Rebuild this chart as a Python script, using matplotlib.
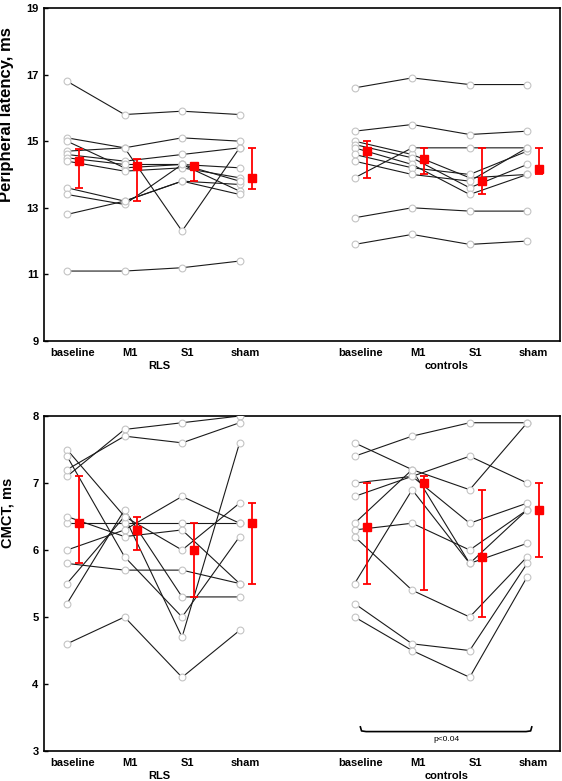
import matplotlib
matplotlib.use('Agg')
import numpy as np
import matplotlib.pyplot as plt

plt.rcParams.update({
    'font.family': ['Liberation Sans', 'DejaVu Sans'],
    'font.weight': 'bold',
    'axes.labelweight': 'bold',
})

conditions = ['baseline', 'M1', 'S1', 'sham']
groups = ['RLS', 'controls']

# Peripheral latency (ms), one row per subject: baseline, M1, S1, sham
lat_rls = [
    [16.8, 15.8, 15.9, 15.8],
    [11.1, 11.1, 11.2, 11.4],
    [15.1, 14.8, 15.1, 15.0],
    [15.0, 14.2, 14.3, 13.5],
    [14.7, 14.8, 12.3, 14.8],
    [14.6, 14.4, 14.6, 14.8],
    [14.5, 14.3, 14.3, 14.2],
    [14.4, 14.1, 14.2, 13.9],
    [13.6, 13.2, 13.8, 13.7],
    [13.4, 13.1, 14.3, 13.8],
    [12.8, 13.2, 13.8, 13.4],
]
lat_ctrl = [
    [16.6, 16.9, 16.7, 16.7],
    [15.3, 15.5, 15.2, 15.3],
    [12.7, 13.0, 12.9, 12.9],
    [11.9, 12.2, 11.9, 12.0],
    [15.0, 14.6, 13.9, 14.0],
    [14.9, 14.5, 13.6, 14.3],
    [14.8, 14.3, 13.4, 14.0],
    [14.6, 14.2, 14.0, 14.7],
    [14.4, 14.0, 13.8, 14.8],
    [13.9, 14.8, 14.8, 14.8],
]
# red summary markers: centre, lower, upper
lat_rls_mid = [14.4, 14.24, 14.24, 13.9]
lat_rls_lo = [13.6, 13.2, 13.8, 13.55]
lat_rls_hi = [14.75, 14.45, 14.3, 14.8]
lat_ctrl_mid = [14.7, 14.45, 13.8, 14.15]
lat_ctrl_lo = [13.9, 14.0, 13.4, 14.0]
lat_ctrl_hi = [15.0, 14.8, 14.8, 14.8]

# CMCT (ms)
cmct_rls = [
    [7.1, 7.8, 7.9, 8.0],
    [7.2, 7.7, 7.6, 7.9],
    [7.5, 6.5, 4.7, 7.6],
    [4.6, 5.0, 4.1, 4.8],
    [5.8, 5.7, 5.7, 5.5],
    [6.4, 6.4, 6.4, 6.4],
    [6.0, 6.3, 6.8, 6.4],
    [5.5, 6.5, 6.0, 6.7],
    [5.2, 6.6, 5.3, 5.3],
    [7.4, 5.9, 5.0, 6.2],
    [6.5, 6.2, 6.3, 5.5],
]
cmct_ctrl = [
    [7.4, 7.7, 7.9, 7.9],
    [7.6, 7.2, 6.9, 7.9],
    [7.0, 7.1, 7.4, 7.0],
    [6.8, 7.1, 6.4, 6.7],
    [6.4, 7.2, 5.8, 6.6],
    [6.3, 6.4, 6.0, 6.6],
    [5.5, 6.9, 5.8, 6.1],
    [6.2, 5.4, 5.0, 5.9],
    [5.2, 4.6, 4.5, 5.8],
    [5.0, 4.5, 4.1, 5.6],
]
cmct_rls_mid = [6.4, 6.3, 6.0, 6.4]
cmct_rls_lo = [5.8, 6.0, 5.3, 5.5]
cmct_rls_hi = [7.1, 6.5, 6.4, 6.7]
cmct_ctrl_mid = [6.35, 7.0, 5.9, 6.6]
cmct_ctrl_lo = [5.5, 5.4, 5.0, 5.9]
cmct_ctrl_hi = [7.0, 7.1, 6.9, 7.0]

pos_rls = np.array([1, 2, 3, 4])
pos_ctrl = np.array([6, 7, 8, 9])
off = 0.21

fig = plt.figure(figsize=(5.62, 7.81), dpi=100)
ax1 = fig.add_axes([0.0783, 0.5634, 0.9181, 0.4264])
ax2 = fig.add_axes([0.0783, 0.0384, 0.9181, 0.4289])


def draw_group(ax, pos, subjects, mid, lo, hi):
    for s in subjects:
        ax.plot(pos, s, color='#1a1a1a', lw=0.8, zorder=2)
    for s in subjects:
        ax.scatter(pos, s, s=24, facecolor='white', edgecolor='#c4c4c4',
                   linewidth=0.8, zorder=3)
    mid = np.array(mid)
    yerr = [mid - np.array(lo), np.array(hi) - mid]
    ax.errorbar(pos + off, mid, yerr=yerr, fmt='s', color='#ff0000', ms=5.5,
                elinewidth=1.3, capsize=3, capthick=1.3, zorder=4)


draw_group(ax1, pos_rls, lat_rls, lat_rls_mid, lat_rls_lo, lat_rls_hi)
draw_group(ax1, pos_ctrl, lat_ctrl, lat_ctrl_mid, lat_ctrl_lo, lat_ctrl_hi)
draw_group(ax2, pos_rls, cmct_rls, cmct_rls_mid, cmct_rls_lo, cmct_rls_hi)
draw_group(ax2, pos_ctrl, cmct_ctrl, cmct_ctrl_mid, cmct_ctrl_lo, cmct_ctrl_hi)

ax1.set_ylim(9, 19)
ax1.set_yticks([9, 11, 13, 15, 17, 19])
ax1.set_ylabel('Peripheral latency, ms', fontsize=12)
ax1.yaxis.set_label_coords(-0.058, 0.68)
ax2.set_ylim(3, 8)
ax2.set_yticks([3, 4, 5, 6, 7, 8])
ax2.set_ylabel('CMCT, ms', fontsize=10.5)
ax2.yaxis.set_label_coords(-0.058, 0.71)

for ax in (ax1, ax2):
    ax.set_xlim(0.6, 9.57)
    ax.set_xticks(np.concatenate([pos_rls, pos_ctrl]) + 0.1)
    ax.set_xticklabels(conditions * 2, fontsize=8)
    ax.tick_params(axis='x', length=0, pad=5)
    ax.tick_params(axis='y', direction='in', length=3, width=1, labelsize=8, pad=4)
    for sp in ax.spines.values():
        sp.set_linewidth(1.2)
    ax.text(2.6, -0.075, groups[0], transform=ax.get_xaxis_transform(),
            ha='center', va='center', fontsize=8)
    ax.text(7.6, -0.075, groups[1], transform=ax.get_xaxis_transform(),
            ha='center', va='center', fontsize=8)

# significance bracket under controls
bx = [6.1, 6.12, 6.2, 8.98, 9.06, 9.08]
by = [3.36, 3.3, 3.29, 3.29, 3.3, 3.36]
ax2.plot(bx, by, color='black', lw=1.2)
ax2.text(7.6, 3.17, 'p<0.04', ha='center', va='center', fontsize=6,
         fontweight='normal')

plt.savefig('out.png', dpi=100)
